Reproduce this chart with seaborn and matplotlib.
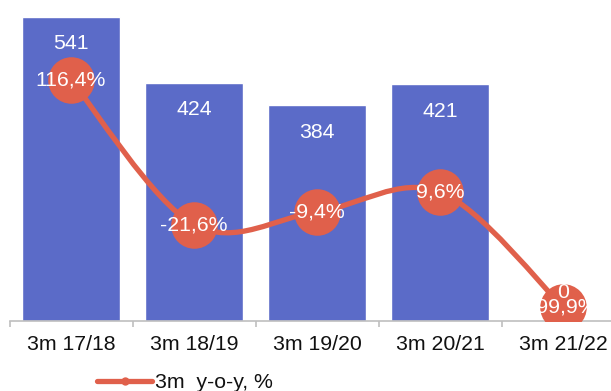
import numpy as np
import pandas as pd
import matplotlib
matplotlib.use("Agg")
import matplotlib.pyplot as plt
from matplotlib.path import Path
from matplotlib.patches import PathPatch
from matplotlib.lines import Line2D
import seaborn as sns

categories = ["3m 17/18", "3m 18/19", "3m 19/20", "3m 20/21", "3m 21/22"]
volumes = [541, 424, 384, 421, 0]
yoy_pct = [116.4, -21.6, -9.4, 9.6, -99.9]
legend_label = "3m  y-o-y, %"

BAR = "#5B6BC8"
LINE = "#E0604B"

sns.set_theme(style="white")
plt.rcParams["font.family"] = ["Liberation Sans", "DejaVu Sans"]

W, H = 611, 391
fig = plt.figure(figsize=(W / 100, H / 100), dpi=100)
ax = fig.add_axes([9.5 / W, (H - 321) / H, 601.5 / W, 321 / H])

df = pd.DataFrame({"cat": categories, "val": volumes})
sns.barplot(data=df, x="cat", y="val", color=BAR, saturation=1, width=0.8, ax=ax)
ax.set_xlim(-0.5, 4.39)
ax.set_ylim(0, 571)
ax.set_xlabel("")
ax.set_ylabel("")
ax.set_yticks([])
for s in ["left", "right", "top"]:
    ax.spines[s].set_visible(False)
ax.spines["bottom"].set_color("#BFBFBF")
ax.spines["bottom"].set_linewidth(1.2)
ax.set_xticks(range(len(categories)))
ax.set_xticklabels(categories, fontsize=15.3, color="#111111")
ax.set_xticks(np.arange(-0.5, len(categories) - 0.5, 1.0), minor=True)
ax.tick_params(axis="x", which="major", length=0, pad=10)
ax.tick_params(axis="x", which="minor", length=4.5, width=1.2, color="#BFBFBF", direction="out", bottom=True)

ax2 = ax.twinx()
ax2.set_ylim(-113.3, 192.4)
ax2.set_yticks([])
for s in ax2.spines.values():
    s.set_visible(False)

# smooth line (Catmull-Rom style bezier through the data points)
xs = np.arange(len(yoy_pct), dtype=float)
ys = np.array(yoy_pct, dtype=float)
pts = np.column_stack([xs, ys])
verts = [tuple(pts[0])]
codes = [Path.MOVETO]
n = len(pts)
for i in range(n - 1):
    p0 = pts[i - 1] if i > 0 else pts[i]
    p1 = pts[i]
    p2 = pts[i + 1]
    p3 = pts[i + 2] if i + 2 < n else pts[i + 1]
    c1 = p1 + (p2 - p0) / 6.0
    c2 = p2 - (p3 - p1) / 6.0
    verts += [tuple(c1), tuple(c2), tuple(p2)]
    codes += [Path.CURVE4] * 3
patch = PathPatch(Path(verts, codes), facecolor="none", edgecolor=LINE, lw=3.8,
                  capstyle="round", joinstyle="round", zorder=2)
ax2.add_patch(patch)
ax2.plot(xs, ys, linestyle="none", marker="o", markersize=33.5, color=LINE,
         markeredgewidth=0, zorder=2.5)

for i, v in enumerate(yoy_pct):
    ax2.annotate(f"{v:.1f}%".replace(".", ","), xy=(i, v), ha="center", va="center",
                 fontsize=15.3, color="white", zorder=4)

for i, v in enumerate(volumes):
    off = -27 if v > 0 else 28
    ax2.annotate(str(v), xy=(i, v), xycoords=ax.transData, xytext=(0, off * 0.72),
                 textcoords="offset points", ha="center", va="center",
                 fontsize=15.3, color="white", zorder=4)

handle = Line2D([0], [0], color=LINE, lw=3.8, marker="o", markersize=6,
                markeredgewidth=0)
fig.legend([handle], [legend_label], loc="center left",
           bbox_to_anchor=(97 / W, 1 - 383 / H), frameon=False, fontsize=15.3,
           handlelength=2.6, handletextpad=0.15, borderpad=0, borderaxespad=0,
           labelcolor="#111111")

fig.savefig("out.png", dpi=100)
